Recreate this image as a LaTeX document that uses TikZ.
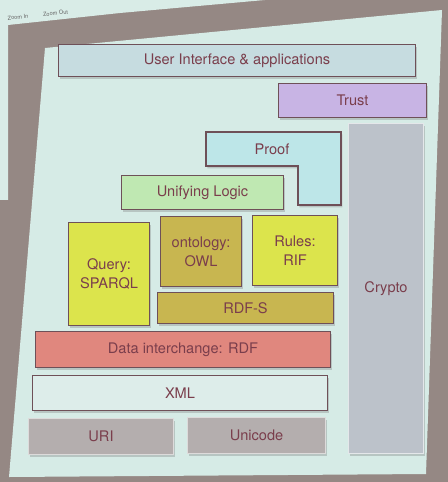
\documentclass[tikz,border=0pt]{standalone}
\usepackage{fontspec}
\setmainfont{TeX Gyre Heros}
\usetikzlibrary{shadows,positioning}
\definecolor{framegray}{HTML}{958884}
\definecolor{toolbar}{HTML}{D9ECE7}
\definecolor{slide}{HTML}{D6EBE6}
\definecolor{boxline}{HTML}{6E5058}
\definecolor{labeltext}{HTML}{7A3E4C}
\definecolor{uifill}{HTML}{C6DCE0}
\definecolor{trustfill}{HTML}{C8B4E4}
\definecolor{prooffill}{HTML}{BDE6E8}
\definecolor{logicfill}{HTML}{BFE8B2}
\definecolor{limefill}{HTML}{DCE44C}
\definecolor{olivefill}{HTML}{C8B650}
\definecolor{rdffill}{HTML}{E0877E}
\definecolor{xmlfill}{HTML}{DDEDEA}
\definecolor{basefill}{HTML}{B4AEAE}
\definecolor{cryptofill}{HTML}{BCC2CA}
\tikzstyle{layer} = [draw=boxline,line width=0.6pt,anchor=north west,inner sep=0pt,align=center,
  text=labeltext,font=\fontsize{8.3}{10.6}\selectfont,
  drop shadow={shadow xshift=0.8pt,shadow yshift=-1.4pt,opacity=0.35}]
\tikzstyle{softlayer} = [layer,draw=white!55!basefill]

\begin{document}
\begin{tikzpicture}[x=0.02cm,y=-0.02cm]
		\useasboundingbox (0,0) rectangle (448,482);
		\fill[framegray] (0,0) rectangle (448,482);
		\fill[toolbar] (0,0) -- (265,0) -- (120,13) -- (8,25) -- (8,200) -- (0,200) -- cycle;
		\node[text=black!60,font=\fontsize{3.2}{4}\selectfont,rotate=6] (zin) at (18,17) {Zoom In};
		\node[text=black!60,font=\fontsize{3.2}{4}\selectfont,rotate=6,right=0.5mm of zin] (zout) {Zoom Out};
		\fill[slide] (45,48) -- (442,10) -- (426,474) -- (9,477) -- cycle;

		\node[layer,fill=uifill,minimum width=7.14cm,minimum height=0.64cm] (ui) at (58,44) {User Interface \& applications};
		\node[layer,fill=trustfill,minimum width=2.96cm,minimum height=0.68cm] (trust) at (278,83) {Trust};

		% proof is an L-shaped block
		\draw[draw=boxline,line width=0.6pt,fill=prooffill,drop shadow={shadow xshift=0.8pt,shadow yshift=-1.4pt,opacity=0.35}]
			(206,132) -- (341,132) -- (341,205) -- (298,205) -- (298,166) -- (206,166) -- cycle;
		\node[text=labeltext,font=\fontsize{8.3}{10.6}\selectfont] (proof) at (272,149) {Proof};

		\node[layer,fill=cryptofill,draw=white!60!cryptofill,minimum width=1.5cm,minimum height=6.6cm] (crypto) at (348,123) {Crypto};
		\node[layer,fill=logicfill,minimum width=3.24cm,minimum height=0.68cm] (logic) at (121,175) {Unifying Logic};

		\node[layer,fill=limefill,minimum width=1.62cm,minimum height=2.06cm] (query) at (68,222) {Query:\\SPARQL};
		\node[layer,fill=olivefill,minimum width=1.62cm,minimum height=1.40cm] (owl) at (160,216) {ontology:\\OWL};
		\node[layer,fill=limefill,minimum width=1.70cm,minimum height=1.40cm] (rif) at (252,215) {Rules:\\RIF};
		\node[layer,fill=olivefill,minimum width=3.52cm,minimum height=0.62cm] (rdfs) at (157,292) {RDF-S};

		\node[layer,fill=rdffill,minimum width=5.9cm,minimum height=0.72cm] (rdf) at (35,331) {Data interchange: RDF};
		\node[layer,fill=xmlfill,minimum width=5.9cm,minimum height=0.70cm] (xml) at (32,375) {XML};
		\node[softlayer,fill=basefill,minimum width=2.9cm,minimum height=0.72cm] (uri) at (28,418) {URI};
		\node[softlayer,fill=basefill,minimum width=2.76cm,minimum height=0.72cm] (unicode) at (187,417) {Unicode};
	\end{tikzpicture}
\end{document}
